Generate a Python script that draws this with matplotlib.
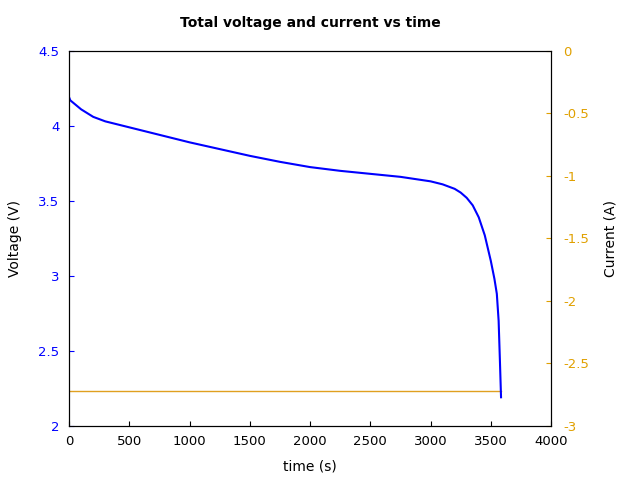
import matplotlib
matplotlib.use("Agg")
import matplotlib.pyplot as plt

# Data
time_s = [0, 10, 100, 200, 300, 500, 750, 1000, 1250, 1500, 1750, 2000, 2250, 2500,
          2750, 3000, 3100, 3200, 3250, 3300, 3350, 3400, 3450, 3500, 3530, 3550, 3565, 3575, 3585]
voltage = [4.19, 4.17, 4.11, 4.06, 4.03, 3.99, 3.94, 3.89, 3.845, 3.80, 3.76, 3.725, 3.70, 3.68,
           3.66, 3.63, 3.61, 3.58, 3.555, 3.52, 3.47, 3.39, 3.27, 3.10, 2.98, 2.88, 2.70, 2.45, 2.19]
cur_time = [0, 3585]
current = [-2.72, -2.72]

fig, ax = plt.subplots(figsize=(6.4, 4.8), dpi=100)
fig.subplots_adjust(left=0.108, right=0.861, top=0.894, bottom=0.113)
ax2 = ax.twinx()

ax2.plot(cur_time, current, color="#e0a020", linewidth=1)
ax.plot(time_s, voltage, color="blue", linewidth=1.5)
ax.set_zorder(ax2.get_zorder() + 1)
ax.patch.set_visible(False)

ax.set_xlim(0, 4000)
ax.set_ylim(2, 4.5)
ax2.set_ylim(-3, 0)
ax.set_xticks(range(0, 4001, 500))
ax.set_yticks([2, 2.5, 3, 3.5, 4, 4.5])
ax.set_yticklabels(["2", "2.5", "3", "3.5", "4", "4.5"])
ax2.set_yticks([-3, -2.5, -2, -1.5, -1, -0.5, 0])
ax2.set_yticklabels(["-3", "-2.5", "-2", "-1.5", "-1", "-0.5", "0"])

ax.tick_params(direction="in", top=False, labelsize=9.5, pad=7)
ax.tick_params(axis="y", colors="blue")
ax2.tick_params(direction="in", colors="#e0a000", labelsize=9.5, pad=9)
for a in (ax, ax2):
    for s in a.spines.values():
        s.set_color("black")

ax.set_xlabel("time (s)", labelpad=8)
ax.set_ylabel("Voltage (V)", labelpad=12)
ax2.set_ylabel("Current (A)", labelpad=10)
ax.set_title("Total voltage and current vs time", fontweight="bold", fontsize=10, pad=17)

fig.savefig("out.png")
